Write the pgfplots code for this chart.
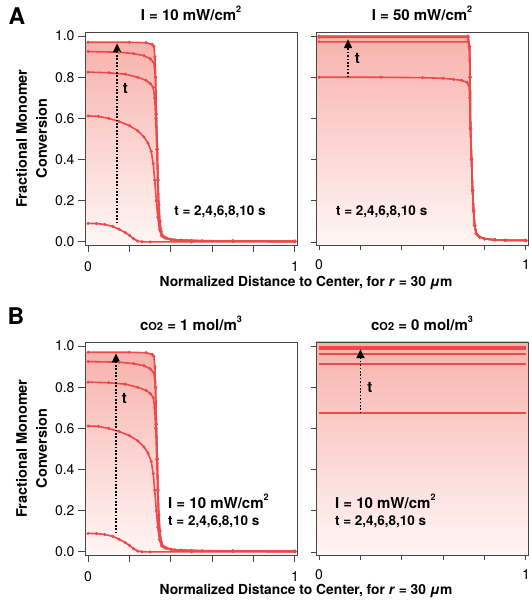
\documentclass[border=0pt]{standalone}
\usepackage{fontspec}
\setmainfont{TeX Gyre Heros}
\usepackage{pgfplots}
\pgfplotsset{compat=1.18}
\usetikzlibrary{arrows.meta}
\definecolor{cline}{RGB}{236,74,74}
\definecolor{cfilltop}{RGB}{248,178,172}
\definecolor{cfillmid}{RGB}{251,198,193}
\definecolor{cfillbot}{RGB}{255,246,245}
\definecolor{cframe}{RGB}{70,70,70}

\tikzset{tarrow/.style={line width=1.7pt, dash pattern=on 1.7pt off 1.7pt, -{Triangle[length=9pt,width=8pt]}}}
\pgfplotsset{
  panel/.style={
    scale only axis, width=212pt, height=213pt,
    xmin=-0.015, xmax=1.01, ymin=-0.015, ymax=1.02,
    axis line style={line width=0.9pt, cframe},
    xtick={0,0.2,0.4,0.6,0.8,1}, xticklabels={0,,,,,1},
    ytick={0,0.2,0.4,0.6,0.8,1},
    yticklabel={\pgfmathprintnumber[fixed,fixed zerofill,precision=1]{\tick}},
    tick align=outside, major tick length=7pt,
    tick style={line width=0.9pt, cframe},
    xtick pos=bottom, ytick pos=left,
    ticklabel style={font=\fontsize{14}{16}\selectfont},
    /pgf/number format/assume math mode=true,
    xticklabel style={yshift=-6pt},
    title style={font=\bfseries\fontsize{15}{17}\selectfont, yshift=2pt},
    axis on top,
  },
  curve/.style={color=cline, line width=1.6pt, mark=*, mark size=0.6pt, mark options={draw=cline, fill=cline}},
  hline/.style={color=cline, line width=2pt, mark=none},
  shadefill/.style={draw=none, shading=axis, top color=cfilltop, middle color=cfillmid, bottom color=cfillbot},
  ylab/.style={ylabel={Fractional Monomer\\Conversion},
    ylabel style={align=center, font=\bfseries\fontsize{14.5}{20}\selectfont, yshift=1pt}},
}
\newcommand{\supr}[1]{\raisebox{1.0ex}{\fontsize{9}{10}\selectfont #1}}

\begin{document}
\begin{tikzpicture}
\path[use as bounding box] (0,0) rectangle (532pt,600pt);

% ---------------- A left: I = 10 ----------------
\begin{axis}[panel, ylab, at={(85pt,355pt)}, anchor=south west,
  title={I = 10 mW/cm\supr{2}}]
\addplot[shadefill] coordinates {(-0.015,-0.015) (-0.015,0.97) (0.2,0.97) (0.28,0.968) (0.31,0.96) (0.318,0.95) (0.323,0.9) (0.327,0.8) (0.33,0.62) (0.335,0.45) (0.338,0.3) (0.342,0.18) (0.347,0.1) (0.353,0.05) (0.36,0.03) (0.375,0.02) (0.4,0.012) (1.01,0.003) (1.01,-0.015)} -- cycle;
\addplot[curve] coordinates {(0,0.09) (0.04,0.089) (0.08,0.085) (0.12,0.075) (0.15,0.062) (0.18,0.045) (0.2,0.032) (0.22,0.015) (0.24,0.004) (0.26,0.001) (0.3,0.0) (0.5,0.0) (1,0.0)};
\addplot[curve] coordinates {(0,0.612) (0.05,0.61) (0.1,0.6) (0.15,0.585) (0.2,0.565) (0.24,0.54) (0.27,0.51) (0.29,0.48) (0.305,0.44) (0.315,0.38) (0.322,0.3) (0.33,0.2) (0.337,0.12) (0.345,0.06) (0.355,0.03) (0.37,0.02) (0.4,0.012) (0.45,0.008) (0.5,0.006) (0.7,0.004) (1,0.003)};
\addplot[curve] coordinates {(0,0.825) (0.1,0.822) (0.18,0.815) (0.24,0.8) (0.28,0.785) (0.3,0.77) (0.315,0.75) (0.322,0.7) (0.327,0.6) (0.332,0.45) (0.336,0.3) (0.34,0.18) (0.345,0.1) (0.352,0.05) (0.36,0.03) (0.38,0.018) (0.42,0.01) (0.5,0.007) (0.7,0.004) (1,0.003)};
\addplot[curve] coordinates {(0,0.925) (0.15,0.922) (0.22,0.915) (0.27,0.905) (0.3,0.89) (0.318,0.87) (0.325,0.8) (0.33,0.62) (0.335,0.45) (0.338,0.3) (0.342,0.18) (0.347,0.1) (0.353,0.05) (0.36,0.03) (0.375,0.02) (0.4,0.012) (0.45,0.008) (0.55,0.005) (0.7,0.004) (1,0.003)};
\addplot[curve] coordinates {(0,0.97) (0.2,0.97) (0.28,0.968) (0.31,0.96) (0.318,0.95) (0.323,0.9) (0.327,0.8) (0.33,0.62) (0.335,0.45) (0.338,0.3) (0.342,0.18) (0.347,0.1) (0.353,0.05) (0.36,0.03) (0.375,0.02) (0.4,0.012) (0.45,0.008) (0.55,0.005) (0.7,0.004) (1,0.003)};
\draw[tarrow] (axis cs:0.14,0.09) -- (axis cs:0.14,0.965);
\node[font=\bfseries\fontsize{15}{16}\selectfont] at (axis cs:0.18,0.745) {t};
\node[anchor=west, font=\bfseries\fontsize{13.5}{15}\selectfont] at (axis cs:0.40,0.145) {t = 2,4,6,8,10 s};
\end{axis}

% ---------------- A right: I = 50 ----------------
\begin{axis}[panel, at={(316pt,355pt)}, anchor=south west,
  title={I = 50 mW/cm\supr{2}}, yticklabels={}, ytick style={line width=0.7pt}, major tick length=5pt]
\addplot[shadefill] coordinates {(-0.015,-0.015) (-0.015,1.0) (0.72,1.0) (0.727,0.95) (0.73,0.8) (0.732,0.55) (0.737,0.4) (0.742,0.25) (0.747,0.15) (0.752,0.08) (0.76,0.04) (0.775,0.025) (0.8,0.015) (1.01,0.007) (1.01,-0.015)} -- cycle;
\addplot[curve] coordinates {(0,0.80) (0.3,0.80) (0.5,0.798) (0.6,0.795) (0.65,0.79) (0.69,0.785) (0.715,0.775) (0.725,0.76) (0.728,0.7) (0.732,0.55) (0.737,0.4) (0.742,0.25) (0.747,0.15) (0.752,0.08) (0.76,0.04) (0.775,0.025) (0.8,0.015) (0.85,0.01) (0.9,0.008) (1,0.007)};
\addplot[curve] coordinates {(0,0.972) (0.72,0.972) (0.727,0.95) (0.73,0.8) (0.732,0.55) (0.737,0.4) (0.742,0.25) (0.747,0.15) (0.752,0.08) (0.76,0.04) (0.775,0.025) (0.8,0.015) (0.85,0.01) (0.9,0.008) (1,0.007)};
\addplot[curve] coordinates {(0,0.994) (0.72,0.994) (0.727,0.95) (0.73,0.8) (0.732,0.55) (0.737,0.4) (0.742,0.25) (0.747,0.15) (0.752,0.08) (0.76,0.04) (0.775,0.025) (0.8,0.015) (0.85,0.01) (0.9,0.008) (1,0.007)};
\addplot[curve] coordinates {(0,0.998) (0.72,0.998) (0.727,0.95) (0.73,0.8) (0.732,0.55) (0.737,0.4) (0.742,0.25) (0.747,0.15) (0.752,0.08) (0.76,0.04) (0.775,0.025) (0.8,0.015) (0.85,0.01) (0.9,0.008) (1,0.007)};
\addplot[curve] coordinates {(0,1.0) (0.72,1.0) (0.727,0.95) (0.73,0.8) (0.732,0.55) (0.737,0.4) (0.742,0.25) (0.747,0.15) (0.752,0.08) (0.76,0.04) (0.775,0.025) (0.8,0.015) (0.85,0.01) (0.9,0.008) (1,0.007)};
\draw[tarrow] (axis cs:0.14,0.80) -- (axis cs:0.14,0.985);
\node[font=\bfseries\fontsize{15}{16}\selectfont] at (axis cs:0.185,0.89) {t};
\node[anchor=west, font=\bfseries\fontsize{13.5}{15}\selectfont] at (axis cs:0.065,0.145) {t = 2,4,6,8,10 s};
\end{axis}

% ---------------- B left: cO2 = 1 ----------------
\begin{axis}[panel, ylab, at={(85pt,45pt)}, anchor=south west,
  title={c{\fontsize{11}{12}\selectfont O2} = 1 mol/m\supr{3}}]
\addplot[shadefill] coordinates {(-0.015,-0.015) (-0.015,0.97) (0.2,0.97) (0.28,0.968) (0.31,0.96) (0.318,0.95) (0.323,0.9) (0.327,0.8) (0.33,0.62) (0.335,0.45) (0.338,0.3) (0.342,0.18) (0.347,0.1) (0.353,0.05) (0.36,0.03) (0.375,0.02) (0.4,0.012) (1.01,0.003) (1.01,-0.015)} -- cycle;
\addplot[curve] coordinates {(0,0.09) (0.04,0.089) (0.08,0.085) (0.12,0.075) (0.15,0.062) (0.18,0.045) (0.2,0.032) (0.22,0.015) (0.24,0.004) (0.26,0.001) (0.3,0.0) (0.5,0.0) (1,0.0)};
\addplot[curve] coordinates {(0,0.612) (0.05,0.61) (0.1,0.6) (0.15,0.585) (0.2,0.565) (0.24,0.54) (0.27,0.51) (0.29,0.48) (0.305,0.44) (0.315,0.38) (0.322,0.3) (0.33,0.2) (0.337,0.12) (0.345,0.06) (0.355,0.03) (0.37,0.02) (0.4,0.012) (0.45,0.008) (0.5,0.006) (0.7,0.004) (1,0.003)};
\addplot[curve] coordinates {(0,0.825) (0.1,0.822) (0.18,0.815) (0.24,0.8) (0.28,0.785) (0.3,0.77) (0.315,0.75) (0.322,0.7) (0.327,0.6) (0.332,0.45) (0.336,0.3) (0.34,0.18) (0.345,0.1) (0.352,0.05) (0.36,0.03) (0.38,0.018) (0.42,0.01) (0.5,0.007) (0.7,0.004) (1,0.003)};
\addplot[curve] coordinates {(0,0.925) (0.15,0.922) (0.22,0.915) (0.27,0.905) (0.3,0.89) (0.318,0.87) (0.325,0.8) (0.33,0.62) (0.335,0.45) (0.338,0.3) (0.342,0.18) (0.347,0.1) (0.353,0.05) (0.36,0.03) (0.375,0.02) (0.4,0.012) (0.45,0.008) (0.55,0.005) (0.7,0.004) (1,0.003)};
\addplot[curve] coordinates {(0,0.97) (0.2,0.97) (0.28,0.968) (0.31,0.96) (0.318,0.95) (0.323,0.9) (0.327,0.8) (0.33,0.62) (0.335,0.45) (0.338,0.3) (0.342,0.18) (0.347,0.1) (0.353,0.05) (0.36,0.03) (0.375,0.02) (0.4,0.012) (0.45,0.008) (0.55,0.005) (0.7,0.004) (1,0.003)};
\draw[tarrow] (axis cs:0.135,0.09) -- (axis cs:0.135,0.965);
\node[font=\bfseries\fontsize{15}{16}\selectfont] at (axis cs:0.175,0.745) {t};
\node[anchor=west, font=\bfseries\fontsize{15}{17}\selectfont] at (axis cs:0.37,0.245) {I = 10 mW/cm\supr{2}};
\node[anchor=west, font=\bfseries\fontsize{13.5}{15}\selectfont] at (axis cs:0.37,0.145) {t = 2,4,6,8,10 s};
\end{axis}

% ---------------- B right: cO2 = 0 ----------------
\begin{axis}[panel, at={(316pt,45pt)}, anchor=south west,
  title={c{\fontsize{11}{12}\selectfont O2} = 0 mol/m\supr{3}}, yticklabels={}, ytick style={line width=0.7pt}, major tick length=5pt,
  axis background/.style={shading=axis, top color=cfilltop, middle color=cfillmid, bottom color=cfillbot}]
\addplot[hline] coordinates {(0,0.673) (0.25,0.673) (0.5,0.673) (0.75,0.673) (1,0.673)};
\addplot[hline] coordinates {(0,0.913) (0.25,0.913) (0.5,0.913) (0.75,0.913) (1,0.913)};
\addplot[hline] coordinates {(0,0.96) (0.25,0.96) (0.5,0.96) (0.75,0.96) (1,0.96)};
\addplot[hline] coordinates {(0,0.988) (0.25,0.988) (0.5,0.988) (0.75,0.988) (1,0.988)};
\addplot[hline] coordinates {(0,0.996) (0.25,0.996) (0.5,0.996) (0.75,0.996) (1,0.996)};
\draw[tarrow, line width=1.9pt] (axis cs:0.2,0.673) -- (axis cs:0.2,0.985);
\node[font=\bfseries\fontsize{15}{16}\selectfont] at (axis cs:0.245,0.80) {t};
\node[anchor=west, font=\bfseries\fontsize{15}{17}\selectfont] at (axis cs:0.06,0.245) {I = 10 mW/cm\supr{2}};
\node[anchor=west, font=\bfseries\fontsize{13.5}{15}\selectfont] at (axis cs:0.06,0.145) {t = 2,4,6,8,10 s};
\end{axis}

% labels
\node[font=\bfseries\fontsize{13.8}{16}\selectfont] at (306pt,317pt) {Normalized Distance to Center, for \textit{r} = 30 \textit{μ}m};
\node[font=\bfseries\fontsize{13.8}{16}\selectfont] at (306pt,9pt) {Normalized Distance to Center, for \textit{r} = 30 \textit{μ}m};
\node[font=\bfseries\fontsize{23}{24}\selectfont] at (17pt,584pt) {A};
\node[font=\bfseries\fontsize{23}{24}\selectfont] at (16pt,284pt) {B};
\end{tikzpicture}
\end{document}
